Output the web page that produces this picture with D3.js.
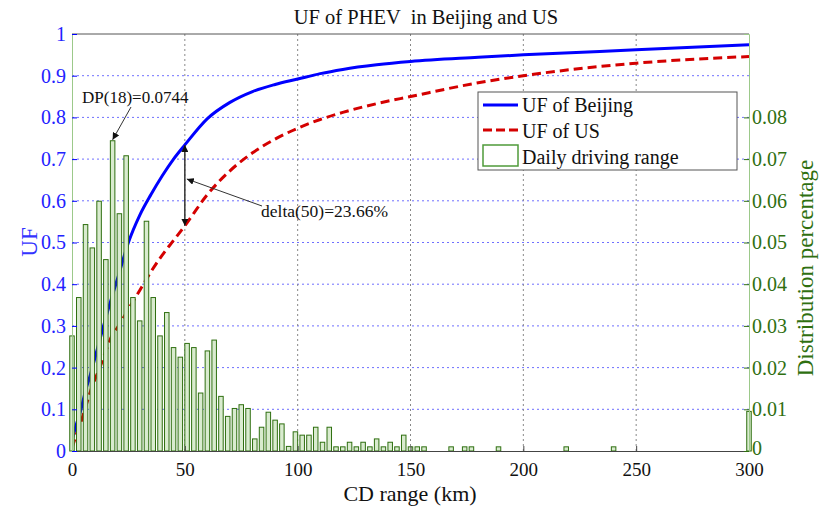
<!DOCTYPE html>
<meta charset="utf-8">
<style>
body { margin: 0; background: #fff; }
</style>
<svg width="821" height="519"></svg>
<script src="https://d3js.org/d3.v7.min.js"></script>
<script>

// daily driving range distribution (3 km bins, only non-empty ones)
var distKm  = [0, 3, 6, 9, 12, 15, 18, 21, 24, 27, 30, 33, 36, 39, 42, 45, 48, 51, 54, 57,
               60, 63, 66, 69, 72, 75, 78, 81, 84, 87, 90, 93, 96, 99, 102, 105, 108, 111, 114, 117,
               120, 123, 126, 129, 132, 135, 138, 141, 144, 147, 150, 153, 156, 168, 174, 177, 189, 219, 240, 300];
var distPct = [0.0276, 0.0368, 0.0543, 0.0487, 0.0599, 0.0459, 0.0744, 0.0569, 0.0708, 0.0368,
               0.0312, 0.0551, 0.0368, 0.0276, 0.0332, 0.0248, 0.0225, 0.0258, 0.0248, 0.0139,
               0.0240, 0.0266, 0.0131, 0.0083, 0.0102, 0.0111, 0.0102, 0.0029, 0.0057, 0.0093,
               0.0074, 0.0065, 0.0011, 0.0046, 0.0038, 0.0038, 0.0057, 0.0021, 0.0057, 0.0010,
               0.0010, 0.0021, 0.0010, 0.0021, 0.0010, 0.0029, 0.0010, 0.0021, 0.0010, 0.0038,
               0.0010, 0.0010, 0.0010, 0.0010, 0.0010, 0.0010, 0.0010, 0.0010, 0.0010, 0.0095];

// utility factor curves
var ufKm      = [0, 2, 4, 6, 8, 10, 12, 15, 18, 20, 25, 30, 35, 40, 45, 50, 60, 70, 80, 90,
                 100, 110, 120, 135, 150, 180, 200, 250, 300];
var ufBeijing = [0.026, 0.065, 0.10, 0.145, 0.18, 0.22, 0.26, 0.32, 0.375, 0.41, 0.50, 0.565, 0.615, 0.66, 0.70, 0.734,
                 0.797, 0.836, 0.862, 0.879, 0.892, 0.905, 0.915, 0.926, 0.934, 0.944, 0.950, 0.962, 0.974];
var ufUS      = [0.007, 0.04, 0.07, 0.105, 0.14, 0.17, 0.195, 0.24, 0.28, 0.295, 0.34, 0.385, 0.43, 0.47, 0.505, 0.540,
                 0.615, 0.672, 0.715, 0.748, 0.774, 0.795, 0.812, 0.833, 0.850, 0.883, 0.900, 0.930, 0.946];

var kmTicks  = [0, 50, 100, 150, 200, 250, 300];
var ufTicks  = [0, 0.1, 0.2, 0.3, 0.4, 0.5, 0.6, 0.7, 0.8, 0.9, 1];
var pctTicks = [0, 0.01, 0.02, 0.03, 0.04, 0.05, 0.06, 0.07, 0.08];

var svg = d3.select("svg");

var x  = d3.scaleLinear().domain([0, 300]).range([72, 749]);
var y  = d3.scaleLinear().domain([0, 1]).range([451, 34]);
var y2 = d3.scaleLinear().domain([0, 0.1]).range([451, 34]);

var blue = "#0000ff", red = "#d40000", green = "#2f6f10";

// arrow marker
svg.append("defs").append("marker")
    .attr("id", "arr")
    .attr("viewBox", "0 0 10 10")
    .attr("refX", 10).attr("refY", 5)
    .attr("markerWidth", 7).attr("markerHeight", 7)
    .attr("markerUnits", "userSpaceOnUse")
    .attr("orient", "auto-start-reverse")
  .append("path")
    .attr("d", "M0,0L10,5L0,10z")
    .attr("fill", "#111");

// grid
svg.append("g").selectAll("line")
    .data(ufTicks.slice(1, 10))
    .enter().append("line")
    .attr("x1", x(0)).attr("x2", x(300))
    .attr("y1", d => y(d)).attr("y2", d => y(d))
    .attr("stroke", "#6f6fff").attr("stroke-width", 1)
    .attr("stroke-dasharray", "2,3");

svg.append("g").selectAll("line")
    .data(kmTicks.slice(1, 6))
    .enter().append("line")
    .attr("x1", d => x(d)).attr("x2", d => x(d))
    .attr("y1", y(0)).attr("y2", y(1))
    .attr("stroke", "#888").attr("stroke-width", 1)
    .attr("stroke-dasharray", "2,3");

// curves
var line = d3.line()
    .x((d, i) => x(ufKm[i]))
    .y(d => y(d))
    .curve(d3.curveMonotoneX);

svg.append("path").datum(ufBeijing)
    .attr("d", line)
    .attr("fill", "none").attr("stroke", blue).attr("stroke-width", 3);

svg.append("path").datum(ufUS)
    .attr("d", line)
    .attr("fill", "none").attr("stroke", red).attr("stroke-width", 3)
    .attr("stroke-dasharray", "9,5");

// bars on top of the curves
var bw = x(2) - x(0);
svg.append("g").selectAll("rect")
    .data(distPct)
    .enter().append("rect")
    .attr("x", (d, i) => x(distKm[i]) - bw / 2)
    .attr("width", bw)
    .attr("y", d => y2(d))
    .attr("height", d => y2(0) - y2(d))
    .attr("fill", "#d9ebcf")
    .attr("stroke", green).attr("stroke-width", 1);

// frame
svg.append("line")
    .attr("x1", x(0)).attr("x2", x(300)).attr("y1", y(1)).attr("y2", y(1))
    .attr("stroke", "#555");

// axes
var gx = svg.append("g")
    .attr("transform", "translate(0," + y(0) + ")")
    .call(d3.axisBottom(x).tickValues(kmTicks).tickSize(-5).tickPadding(12));
gx.select(".domain").attr("stroke", "#444");
gx.selectAll(".tick line").attr("stroke", "#444");
gx.selectAll("text").attr("font-size", 19).attr("fill", "#111");

var gy = svg.append("g")
    .attr("transform", "translate(" + x(0) + ",0)")
    .call(d3.axisLeft(y).tickValues(ufTicks).tickFormat(d3.format("")).tickSize(-5).tickPadding(6));
gy.select(".domain").attr("stroke", "#9cc98a");
gy.selectAll(".tick line").attr("stroke", blue);
gy.selectAll("text").attr("font-size", 20).attr("fill", "#2222ff");

var gy2 = svg.append("g")
    .attr("transform", "translate(" + x(300) + ",0)")
    .call(d3.axisRight(y2).tickValues(pctTicks).tickFormat(d3.format("")).tickSize(-5).tickPadding(3));
gy2.select(".domain").attr("stroke", "#9cc98a");
gy2.selectAll(".tick line").attr("stroke", green);
gy2.selectAll("text").attr("font-size", 20).attr("fill", green);
gy2.select(".tick text").attr("dy", "0.15em");

// titles
svg.append("text")
    .attr("x", 426).attr("y", 24)
    .attr("text-anchor", "middle").attr("font-size", 20.5).attr("fill", "#111")
    .attr("xml:space", "preserve")
    .text("UF of PHEV  in Beijing and US");

svg.append("text")
    .attr("x", 410).attr("y", 501)
    .attr("text-anchor", "middle").attr("font-size", 22).attr("fill", "#111")
    .text("CD range (km)");

svg.append("text")
    .attr("transform", "translate(37,242) rotate(-90)")
    .attr("text-anchor", "middle").attr("font-size", 23).attr("fill", "#3333ff")
    .text("UF");

svg.append("text")
    .attr("transform", "translate(813,268) rotate(-90)")
    .attr("text-anchor", "middle").attr("font-size", 23).attr("fill", green)
    .text("Distribution percentage");

// annotations
svg.append("text")
    .attr("x", 82).attr("y", 103)
    .attr("font-size", 17).attr("fill", "#111")
    .text("DP(18)=0.0744");
svg.append("line")
    .attr("x1", 131).attr("y1", 107)
    .attr("x2", x(18)).attr("y2", y2(0.0744) - 1)
    .attr("stroke", "#333").attr("stroke-width", 1)
    .attr("marker-end", "url(#arr)");

svg.append("line")
    .attr("x1", x(50)).attr("x2", x(50))
    .attr("y1", y(0.734)).attr("y2", y(0.540))
    .attr("stroke", "#333").attr("stroke-width", 1.5)
    .attr("marker-start", "url(#arr)")
    .attr("marker-end", "url(#arr)");

svg.append("text")
    .attr("x", 261).attr("y", 217)
    .attr("font-size", 17.5).attr("fill", "#111")
    .text("delta(50)=23.66%");
svg.append("line")
    .attr("x1", 262).attr("y1", 206)
    .attr("x2", x(50) + 2).attr("y2", 179)
    .attr("stroke", "#333").attr("stroke-width", 1)
    .attr("marker-end", "url(#arr)");

// legend
var lg = svg.append("g").attr("transform", "translate(478,92)");
lg.append("rect")
    .attr("width", 259).attr("height", 78)
    .attr("fill", "#fff").attr("stroke", "#555");
lg.append("line").attr("x1", 5).attr("x2", 40).attr("y1", 13).attr("y2", 13)
    .attr("stroke", blue).attr("stroke-width", 3);
lg.append("line").attr("x1", 5).attr("x2", 40).attr("y1", 38).attr("y2", 38)
    .attr("stroke", red).attr("stroke-width", 3).attr("stroke-dasharray", "9,4");
lg.append("rect").attr("x", 5).attr("y", 53).attr("width", 35).attr("height", 21)
    .attr("fill", "#fff").attr("stroke", "#4f9a3a").attr("stroke-width", 1.5);
var legendText = ["UF of Beijing", "UF of US", "Daily driving range"];
lg.selectAll("text.lab").data(legendText).enter().append("text")
    .attr("class", "lab")
    .attr("x", 44).attr("y", (d, i) => 20 + i * 26)
    .attr("font-size", 20).attr("fill", "#111")
    .text(d => d);

// serif everywhere (axes default to sans-serif)
svg.selectAll("g").attr("font-family", null);
svg.selectAll("text").style("font-family", "'Liberation Serif', 'Times New Roman', serif");

</script>
